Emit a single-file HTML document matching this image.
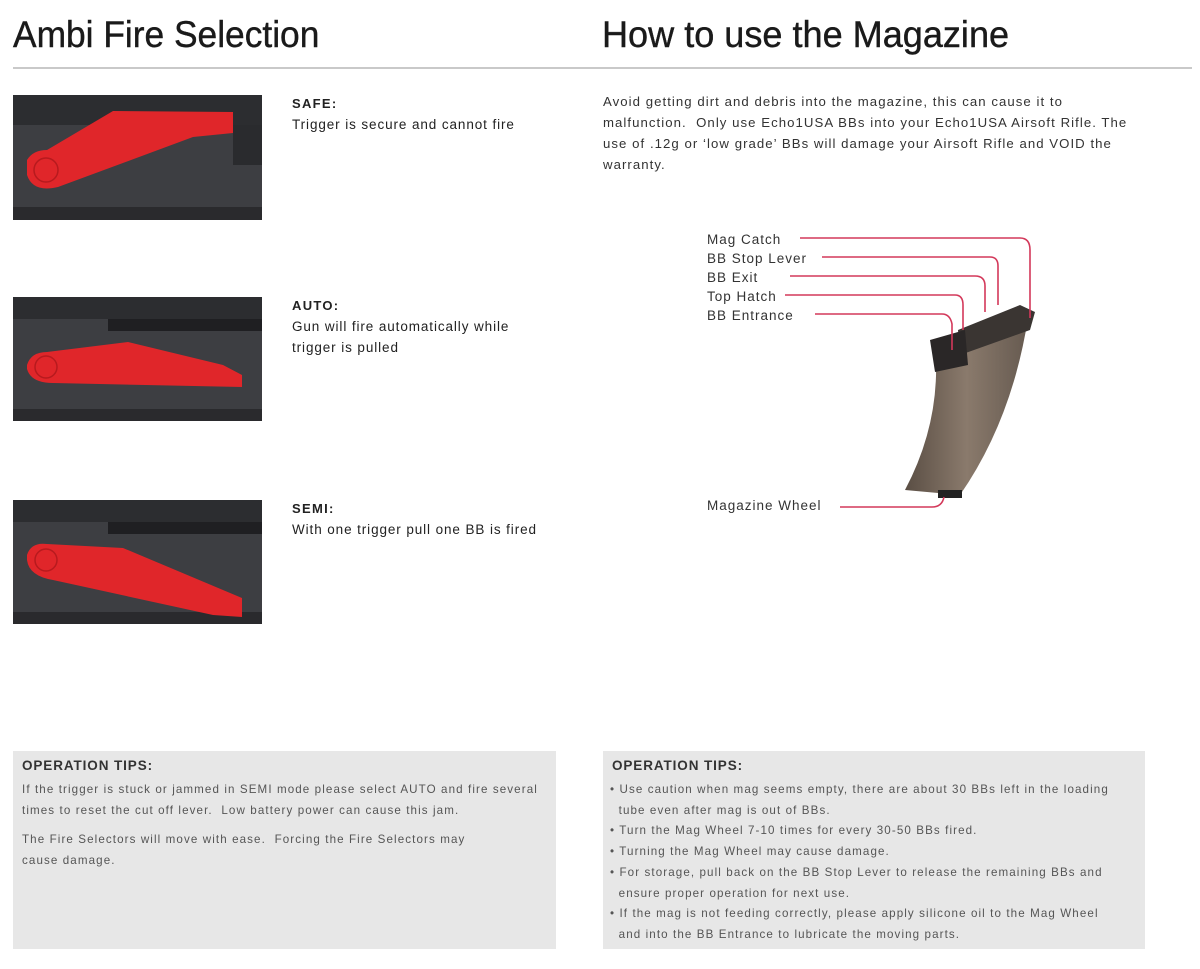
<!DOCTYPE html>
<html><head><meta charset="utf-8"><style>
*{margin:0;padding:0;box-sizing:border-box}
body{width:1200px;height:969px;background:#fff;position:relative;font-family:"Liberation Sans",sans-serif;color:#222;overflow:hidden}
.a{position:absolute}
h1{position:absolute;font-weight:normal;font-size:37px;letter-spacing:0;transform:scaleX(0.955);transform-origin:left top;color:#1a1a1a;white-space:nowrap;-webkit-text-stroke:0.4px #1a1a1a}
.lbl{font-size:13.5px;line-height:21px;color:#222;letter-spacing:0.9px;white-space:nowrap}
.lbl b{font-size:13px;letter-spacing:1.3px}
.box{position:absolute;background:#e7e7e7;top:751px;height:198px}
.box .t{font-weight:bold;font-size:13.5px;color:#333;position:absolute;left:9px;top:7px;letter-spacing:0.9px}
.box .p{position:absolute;font-size:11.6px;color:#555;line-height:20.7px;white-space:nowrap;letter-spacing:1.1px}
.mt{font-size:13.5px;color:#333;white-space:nowrap;letter-spacing:1px}
</style></head><body>
<h1 style="left:13px;top:14px">Ambi Fire Selection</h1>
<h1 style="left:602px;top:14px;transform:scaleX(0.975)">How to use the Magazine</h1>
<div class="a" style="left:13px;top:67px;width:1179px;height:2px;background:#c9c9c9"></div>

<!-- SAFE -->
<svg class="a" style="left:13px;top:95px" width="249" height="125" viewBox="0 0 249 125">
<rect width="249" height="125" fill="#3d3e42"/><rect width="249" height="30" fill="#2c2d30"/>
<rect x="0" y="112" width="249" height="13" fill="#2a2a2d"/>
<rect x="220" y="30" width="29" height="40" fill="#2a2b2e"/>
<path d="M14,65 Q20,55 34,55 L100,16 L220,17 L220,38 L180,42 L45,92 Q20,98 14,80 Z" fill="#e0262a"/>
<circle cx="33" cy="75" r="12" fill="none" stroke="#b71a1e" stroke-width="1.5"/>
</svg>
<div class="a lbl" style="left:292px;top:93px"><b>SAFE:</b><br>Trigger is secure and cannot fire</div>

<!-- AUTO -->
<svg class="a" style="left:13px;top:297px" width="249" height="124" viewBox="0 0 249 124">
<rect width="249" height="124" fill="#3d3e42"/><rect width="249" height="22" fill="#2c2d30"/>
<rect x="95" y="22" width="154" height="12" fill="#1f1f22"/>
<rect x="0" y="112" width="249" height="12" fill="#2a2a2d"/>
<path d="M14,68 Q18,55 34,55 L115,45 L210,68 L229,78 L229,90 L40,86 Q18,86 14,72 Z" fill="#e0262a"/>
<circle cx="33" cy="70" r="11" fill="none" stroke="#b71a1e" stroke-width="1.5"/>
</svg>
<div class="a lbl" style="left:292px;top:295px"><b>AUTO:</b><br>Gun will fire automatically while<br>trigger is pulled</div>

<!-- SEMI -->
<svg class="a" style="left:13px;top:500px" width="249" height="124" viewBox="0 0 249 124">
<rect width="249" height="124" fill="#3d3e42"/><rect width="249" height="22" fill="#2c2d30"/>
<rect x="95" y="22" width="154" height="12" fill="#1f1f22"/>
<rect x="0" y="112" width="249" height="12" fill="#2a2a2d"/>
<path d="M14,55 Q18,42 34,44 L110,48 L229,98 L229,117 L200,115 L40,80 Q16,76 14,60 Z" fill="#e0262a"/>
<circle cx="33" cy="60" r="11" fill="none" stroke="#b71a1e" stroke-width="1.5"/>
</svg>
<div class="a lbl" style="left:292px;top:498px"><b>SEMI:</b><br>With one trigger pull one BB is fired</div>

<div class="a" style="left:603px;top:91px;font-size:13.2px;line-height:21px;color:#333;white-space:nowrap;letter-spacing:1.05px">Avoid getting dirt and debris into the magazine, this can cause it to<br>malfunction.&nbsp; Only use Echo1USA BBs into your Echo1USA Airsoft Rifle. The<br>use of .12g or ‘low grade’ BBs will damage your Airsoft Rifle and VOID the<br>warranty.</div>

<!-- magazine -->
<svg class="a" style="left:0;top:0" width="1200" height="969">
<defs><linearGradient id="g" x1="0" x2="1"><stop offset="0" stop-color="#5a4e44"/><stop offset=".5" stop-color="#8a7a6c"/><stop offset="1" stop-color="#665a50"/></linearGradient></defs>
<path d="M935,345 L1028,318 Q1012,420 960,495 L905,490 Q942,420 935,345 Z" fill="url(#g)"/>
<path d="M958,330 L1020,305 L1035,312 L1030,330 L960,355 Z" fill="#3a3532"/>
<path d="M930,340 L965,330 L968,365 L935,372 Z" fill="#2a2727"/>
<rect x="938" y="490" width="24" height="8" fill="#222"/>
<g fill="none" stroke="#d3385a" stroke-width="1.6">
<path d="M800,238 H1020 Q1030,238 1030,250 V318"/>
<path d="M822,257 H990 Q998,257 998,266 V305"/>
<path d="M790,276 H975 Q985,276 985,286 V312"/>
<path d="M785,295 H955 Q963,295 963,305 V330"/>
<path d="M815,314 H942 Q950,314 952,324 V350"/>
<path d="M840,507 H932 Q942,507 944,497"/>
</g>
</svg>
<div class="a mt" style="left:707px;top:230px;line-height:19px">Mag Catch<br>BB Stop Lever<br>BB Exit<br>Top Hatch<br>BB Entrance</div>
<div class="a mt" style="left:707px;top:498px">Magazine Wheel</div>

<div class="box" style="left:13px;width:543px">
<div class="t">OPERATION TIPS:</div>
<div class="p" style="left:9px;top:29px">If the trigger is stuck or jammed in SEMI mode please select AUTO and fire several<br>times to reset the cut off lever.&nbsp; Low battery power can cause this jam.</div>
<div class="p" style="left:9px;top:79px">The Fire Selectors will move with ease.&nbsp; Forcing the Fire Selectors may<br>cause damage.</div>
</div>
<div class="box" style="left:603px;width:542px">
<div class="t">OPERATION TIPS:</div>
<div class="p" style="left:7px;top:29px">• Use caution when mag seems empty, there are about 30 BBs left in the loading<br>&nbsp;&nbsp;tube even after mag is out of BBs.<br>• Turn the Mag Wheel 7-10 times for every 30-50 BBs fired.<br>• Turning the Mag Wheel may cause damage.<br>• For storage, pull back on the BB Stop Lever to release the remaining BBs and<br>&nbsp;&nbsp;ensure proper operation for next use.<br>• If the mag is not feeding correctly, please apply silicone oil to the Mag Wheel<br>&nbsp;&nbsp;and into the BB Entrance to lubricate the moving parts.</div>
</div>
</body></html>
